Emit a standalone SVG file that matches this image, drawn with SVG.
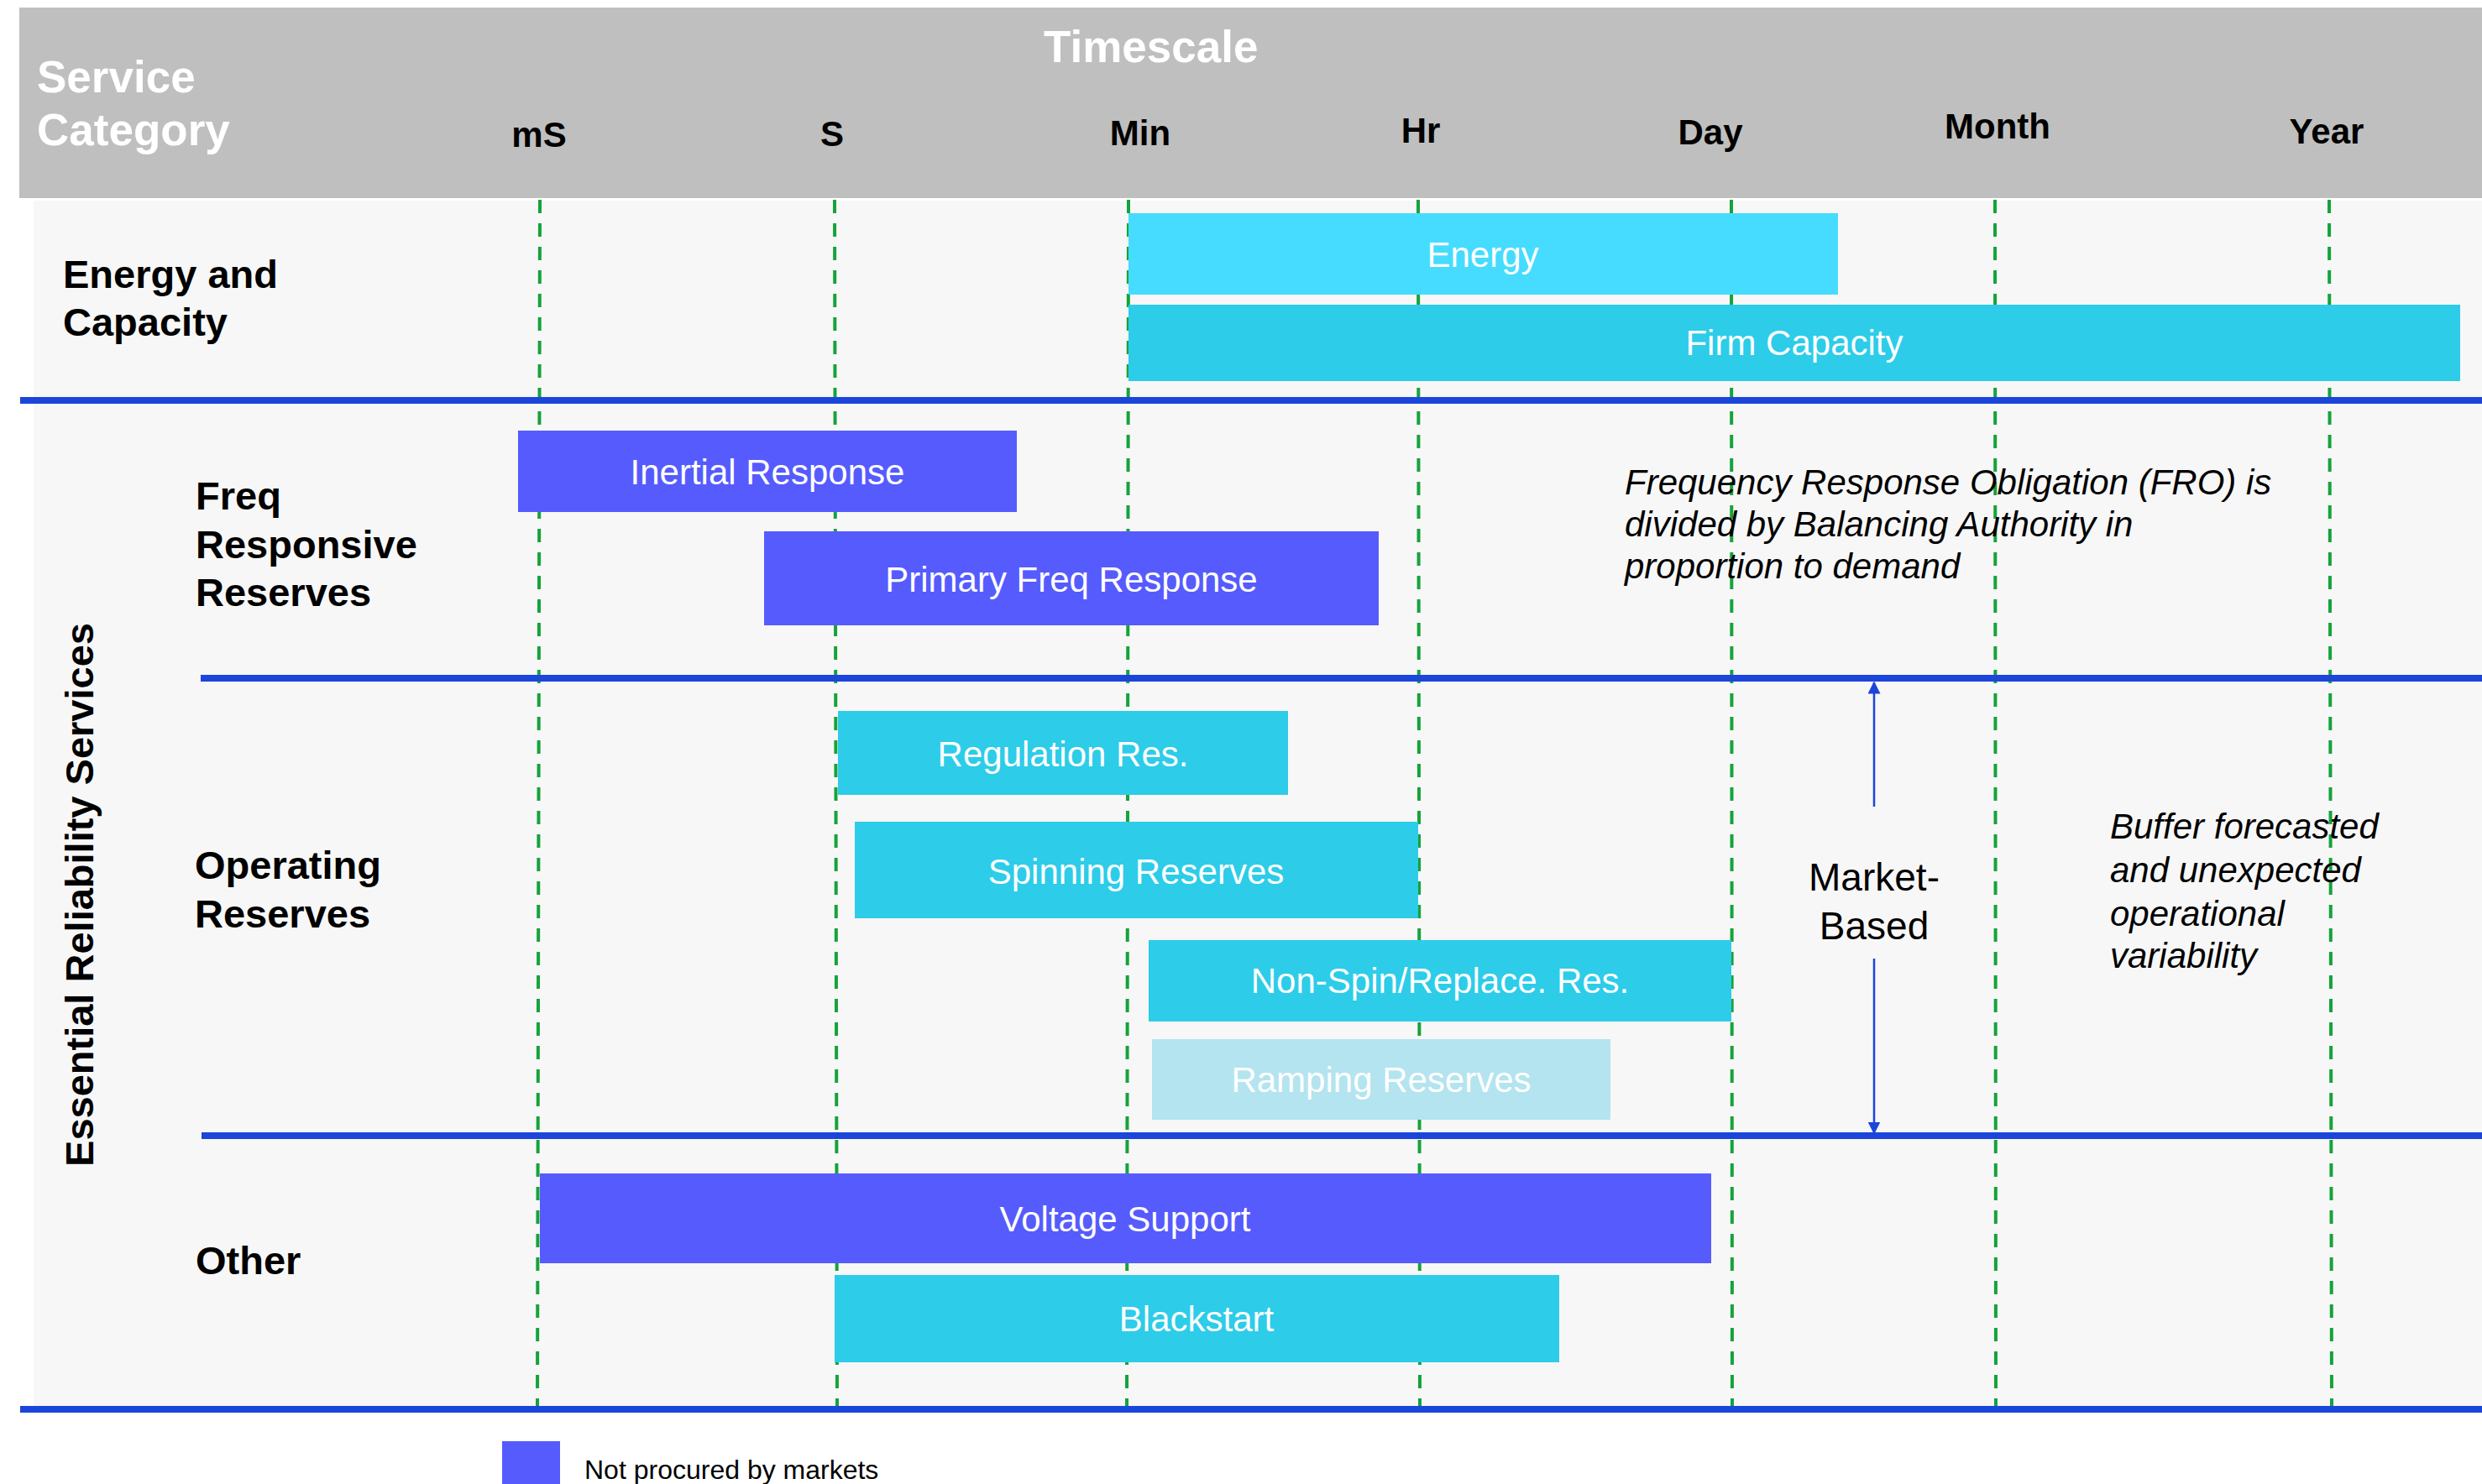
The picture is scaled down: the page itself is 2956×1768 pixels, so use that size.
<svg xmlns="http://www.w3.org/2000/svg" width="2956" height="1768" viewBox="0 0 2956 1768">
  <defs>
    <style>
      .hdr { font-family: "Liberation Sans", Arial, sans-serif; font-weight: bold; fill: #ffffff; font-size: 53px; }
      .tick { font-family: "Liberation Sans", Arial, sans-serif; font-weight: bold; fill: #000000; font-size: 42px; text-anchor: middle; }
      .cat { font-family: "Liberation Sans", Arial, sans-serif; font-weight: bold; fill: #000000; font-size: 47px; }
      .bar-label { font-family: "Liberation Sans", Arial, sans-serif; fill: #ffffff; font-size: 42px; text-anchor: middle; }
      .note { font-family: "Liberation Sans", Arial, sans-serif; font-style: italic; fill: #000000; font-size: 42px; }
      .mb { font-family: "Liberation Sans", Arial, sans-serif; fill: #000000; font-size: 46px; text-anchor: middle; }
      .legend { font-family: "Liberation Sans", Arial, sans-serif; fill: #000000; font-size: 32px; }
      .grid { stroke: #15A33A; stroke-width: 4; stroke-dasharray: 16 12; fill: none; }
      .sep { stroke: #1B45DB; stroke-width: 8; fill: none; }
      .indigo { fill: #565BFE; }
      .cyan { fill: #2DCCE9; }
      .light { fill: #45DCFF; }
      .pale { fill: #B3E4EF; }
      .conn { stroke: #1B45DB; stroke-width: 2.5; fill: none; }
    </style>
    <marker id="arrowhead" viewBox="0 0 10 10" refX="9" refY="5" markerWidth="6" markerHeight="6" markerUnits="strokeWidth" orient="auto-start-reverse">
      <path d="M0,0 L10,5 L0,10 z" fill="#1B45DB"/>
    </marker>
  </defs>

  <!-- page background -->
  <rect x="0" y="0" width="2956" height="1768" fill="#ffffff"/>

  <!-- header band -->
  <g id="header">
    <rect x="23" y="9" width="2933" height="227" fill="#BFBFBF"/>
    <text class="hdr" x="44" y="110">Service</text>
    <text class="hdr" x="44" y="173">Category</text>
    <text class="hdr" x="1243" y="74">Timescale</text>
    <text class="tick" x="642" y="175">mS</text>
    <text class="tick" x="991" y="174">S</text>
    <text class="tick" x="1358" y="173">Min</text>
    <text class="tick" x="1692" y="170">Hr</text>
    <text class="tick" x="2037" y="172">Day</text>
    <text class="tick" x="2379" y="165">Month</text>
    <text class="tick" x="2771" y="171">Year</text>
  </g>

  <!-- chart body -->
  <rect x="40" y="239" width="2916" height="1436" fill="#F7F7F7"/>

  <!-- timescale gridlines -->
  <g id="gridlines">
    <line class="grid" x1="643" y1="238" x2="640" y2="1675"/>
    <line class="grid" x1="994" y1="238" x2="997" y2="1675"/>
    <line class="grid" x1="1344" y1="238" x2="1342" y2="1675"/>
    <line class="grid" x1="1689" y1="238" x2="1691" y2="1675"/>
    <line class="grid" x1="2062" y1="238" x2="2063" y2="1675"/>
    <line class="grid" x1="2376" y1="238" x2="2377" y2="1675"/>
    <line class="grid" x1="2774" y1="238" x2="2777" y2="1675"/>
  </g>

  <!-- category separators -->
  <g id="separators">
    <line class="sep" x1="24" y1="477" x2="2956" y2="477"/>
    <line class="sep" x1="239" y1="808" x2="2956" y2="808"/>
    <line class="sep" x1="240" y1="1353" x2="2956" y2="1353"/>
    <line class="sep" x1="24" y1="1679" x2="2956" y2="1679"/>
  </g>

  <!-- category labels -->
  <g id="categories">
    <text class="cat" x="75" y="343">Energy and</text>
    <text class="cat" x="75" y="400">Capacity</text>
    <text class="cat" x="233" y="607">Freq</text>
    <text class="cat" x="233" y="665">Responsive</text>
    <text class="cat" x="233" y="722">Reserves</text>
    <text class="cat" x="232" y="1047">Operating</text>
    <text class="cat" x="232" y="1105">Reserves</text>
    <text class="cat" x="233" y="1518">Other</text>
    <text class="cat" x="111" y="1066" text-anchor="middle" font-size="48" transform="rotate(-90 111 1066)">Essential Reliability Services</text>
  </g>

  <!-- service bars -->
  <g id="energy">
    <rect class="light" x="1344" y="254" width="845" height="97"/>
    <text class="bar-label" x="1766" y="318">Energy</text>
  </g>
  <g id="firm-capacity">
    <rect class="cyan" x="1344" y="363" width="1586" height="91"/>
    <text class="bar-label" x="2137" y="423">Firm Capacity</text>
  </g>
  <g id="inertial-response">
    <rect class="indigo" x="617" y="513" width="594" height="97"/>
    <text class="bar-label" x="914" y="577">Inertial Response</text>
  </g>
  <g id="primary-freq-response">
    <rect class="indigo" x="910" y="633" width="732" height="112"/>
    <text class="bar-label" x="1276" y="705">Primary Freq Response</text>
  </g>
  <g id="regulation-res">
    <rect class="cyan" x="998" y="847" width="536" height="100"/>
    <text class="bar-label" x="1266" y="913">Regulation Res.</text>
  </g>
  <g id="spinning-reserves">
    <rect class="cyan" x="1018" y="979" width="671" height="115"/>
    <text class="bar-label" x="1353" y="1053">Spinning Reserves</text>
  </g>
  <g id="non-spin">
    <rect class="cyan" x="1368" y="1120" width="694" height="97"/>
    <text class="bar-label" x="1715" y="1183">Non-Spin/Replace. Res.</text>
  </g>
  <g id="ramping-reserves">
    <rect class="pale" x="1372" y="1238" width="546" height="96"/>
    <text class="bar-label" x="1645" y="1301" fill="#F4FBFD">Ramping Reserves</text>
  </g>
  <g id="voltage-support">
    <rect class="indigo" x="643" y="1398" width="1395" height="107"/>
    <text class="bar-label" x="1340" y="1467">Voltage Support</text>
  </g>
  <g id="blackstart">
    <rect class="cyan" x="994" y="1519" width="863" height="104"/>
    <text class="bar-label" x="1425" y="1586">Blackstart</text>
  </g>

  <!-- annotations -->
  <g id="fro-note">
    <text class="note" x="1935" y="589">Frequency Response Obligation (FRO) is</text>
    <text class="note" x="1935" y="639">divided by Balancing Authority in</text>
    <text class="note" x="1935" y="689">proportion to demand</text>
  </g>
  <g id="buffer-note">
    <text class="note" x="2513" y="999">Buffer forecasted</text>
    <text class="note" x="2513" y="1051">and unexpected</text>
    <text class="note" x="2513" y="1103">operational</text>
    <text class="note" x="2513" y="1153">variability</text>
  </g>
  <g id="market-based">
    <text class="mb" x="2232" y="1061">Market-</text>
    <text class="mb" x="2232" y="1119">Based</text>
  </g>

  <!-- span arrows -->
  <g id="connectors">
    <line class="conn" x1="2232" y1="961" x2="2232" y2="813" marker-end="url(#arrowhead)"/>
    <line class="conn" x1="2232" y1="1142" x2="2232" y2="1350" marker-end="url(#arrowhead)"/>
  </g>

  <!-- legend -->
  <g id="legend">
    <rect class="indigo" x="598" y="1717" width="69" height="60"/>
    <text class="legend" x="696" y="1762">Not procured by markets</text>
  </g>
</svg>
